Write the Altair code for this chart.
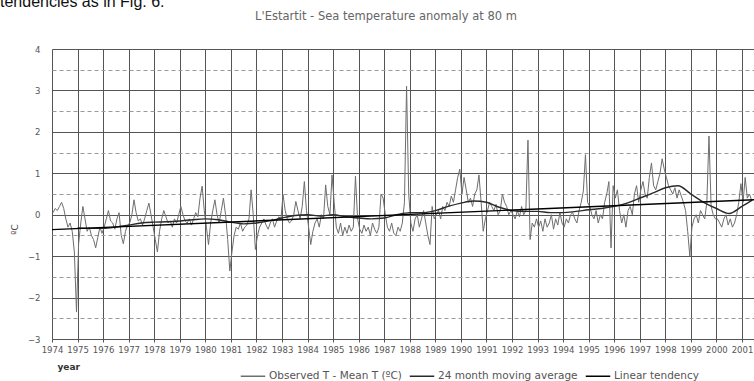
import altair as alt
import numpy as np
import pandas as pd

# ---------------- data ----------------
years = list(range(1974, 2002))
obs_by_year = [
    [0.05, 0.15, 0.1, 0.2, 0.3, 0.15, -0.1, -0.3, -0.2, -0.4, -0.9, -2.35],   # 1974
    [-0.7, -0.2, 0.2, -0.1, -0.4, -0.3, -0.5, -0.6, -0.8, -0.55, -0.3, -0.45],  # 1975
    [-0.3, -0.1, 0.1, -0.15, -0.2, -0.35, -0.1, 0.05, -0.5, -0.7, -0.4, -0.25],  # 1976
    [-0.2, 0.0, 0.36, 0.05, -0.15, -0.1, -0.25, -0.1, 0.1, 0.28, 0.0, -0.3],     # 1977
    [-0.6, -0.9, -0.4, -0.1, 0.1, -0.05, -0.2, -0.15, -0.3, -0.1, -0.2, 0.0],    # 1978
    [0.2, 0.0, -0.15, -0.2, -0.1, -0.25, -0.1, 0.05, -0.05, 0.4, 0.69, 0.1],     # 1979
    [-0.3, -0.72, -0.2, 0.1, 0.36, 0.0, -0.2, 0.1, 0.4, 0.0, -0.6, -1.36],       # 1980
    [-0.9, -0.5, -0.3, -0.35, -0.2, -0.4, -0.3, -0.25, -0.1, 0.6, 0.0, -0.84],   # 1981
    [-0.5, -0.3, -0.2, -0.1, -0.25, -0.35, -0.2, -0.1, -0.3, -0.15, -0.05, -0.1],  # 1982
    [0.48, 0.1, -0.1, -0.2, -0.15, 0.0, 0.32, 0.1, -0.1, 0.2, 0.8, 0.1],         # 1983
    [-0.3, -0.72, -0.4, -0.2, -0.1, -0.3, 0.0, -0.1, 0.72, 0.2, 0.0, 0.96],      # 1984
    [0.3, -0.3, -0.45, -0.2, -0.5, -0.3, -0.45, -0.25, -0.4, -0.3, 0.93, -0.1],  # 1985
    [-0.35, -0.45, -0.25, -0.4, -0.3, -0.5, -0.2, -0.35, -0.45, -0.3, 0.5, 0.4],  # 1986
    [0.0, -0.3, -0.4, -0.2, -0.45, -0.5, -0.3, -0.4, -0.2, 0.3, 3.1, 0.5],       # 1987
    [-0.2, -0.4, -0.1, 0.0, -0.3, -0.1, 0.1, -0.2, -0.5, -0.72, 0.2, -0.1],      # 1988
    [0.0, 0.1, -0.1, 0.2, 0.1, 0.3, 0.2, 0.45, 0.3, 0.6, 0.9, 1.1],              # 1989
    [0.5, 0.9, 0.6, 0.3, 0.4, 0.2, 0.5, 0.6, 0.96, 0.3, -0.4, -0.1],             # 1990
    [0.1, 0.3, 0.2, 0.1, 0.25, 0.0, 0.1, 0.5, 0.3, 0.2, 0.0, 0.1],               # 1991
    [0.0, -0.1, 0.1, -0.05, 0.2, 0.0, 0.1, 1.8, -0.6, -0.2, -0.3, -0.1],         # 1992
    [-0.3, -0.15, -0.4, -0.1, -0.3, -0.2, 0.0, -0.35, -0.1, -0.25, 0.05, -0.2],  # 1993
    [-0.3, -0.1, -0.2, 0.0, 0.05, -0.1, -0.2, 0.1, 0.3, 0.57, 1.45, 0.3],        # 1994
    [0.2, 0.0, -0.1, 0.1, -0.2, 0.0, -0.1, 0.3, 0.5, 0.8, -0.8, 0.7],            # 1995
    [0.4, 0.6, 0.1, -0.2, 0.0, -0.3, 0.1, 0.2, 0.0, 0.5, 0.7, 0.3],              # 1996
    [0.6, 0.8, 0.5, 0.4, 0.9, 1.25, 0.7, 0.6, 0.8, 1.0, 1.35, 1.1],              # 1997
    [0.9, 0.7, 0.6, 0.5, 0.65, 0.4, 0.6, 0.45, 0.3, 0.1, -0.4, -1.0],            # 1998
    [-0.3, -0.1, 0.0, -0.2, 0.1, 0.0, -0.1, 0.3, 1.9, 0.2, 0.0, -0.1],           # 1999
    [-0.1, -0.2, -0.3, -0.1, 0.0, -0.25, -0.1, -0.3, -0.2, 0.0, 0.3, 0.75],      # 2000
    [0.3, 0.9, 0.4, 0.5, 0.35],                                                  # 2001
]

ma_time = [1975.0, 1975.5, 1976.0, 1976.5, 1977.0, 1977.5, 1978.0, 1978.5, 1979.0, 1979.5,
           1980.0, 1980.5, 1981.0, 1981.5, 1982.0, 1982.5, 1983.0, 1983.5, 1984.0, 1984.5,
           1985.0, 1985.5, 1986.0, 1986.5, 1987.0, 1987.5, 1988.0, 1988.5, 1989.0, 1989.5,
           1990.0, 1990.5, 1991.0, 1991.5, 1992.0, 1992.5, 1993.0, 1993.5, 1994.0, 1994.5,
           1995.0, 1995.5, 1996.0, 1996.5, 1997.0, 1997.5, 1998.0, 1998.5, 1999.0, 1999.5,
           2000.0, 2000.5, 2001.0, 2001.4]
ma_value = [-0.32, -0.33, -0.33, -0.3, -0.25, -0.2, -0.18, -0.17, -0.15, -0.12,
            -0.1, -0.12, -0.18, -0.22, -0.2, -0.15, -0.08, -0.02, 0.0, -0.03,
            0.0, -0.05, -0.08, -0.1, -0.08, 0.0, 0.05, 0.05, 0.1, 0.2,
            0.28, 0.33, 0.3, 0.18, 0.1, 0.08, 0.08, 0.05, 0.05, 0.08,
            0.12, 0.15, 0.2, 0.28, 0.4, 0.52, 0.65, 0.7, 0.5, 0.3,
            0.15, 0.03, 0.2, 0.35]

lin_time = [1974.0, 2001.47]
lin_value = [-0.36, 0.36]

series_names = ["Observed T - Mean T (ºC)", "24 month moving average", "Linear tendency"]
series_colors = ["#6e6e6e", "#2a2a2a", "#000000"]

title_text = ["L'Estartit - Sea temperature anomaly at 80 m"]
page_text = ["tendencies as in Fig. 6."]

# ---------------- tables ----------------
obs_t, obs_v = [], []
for y, vals in zip(years, obs_by_year):
    for m, v in enumerate(vals):
        obs_t.append(y + (m + 0.5) / 12.0)
        obs_v.append(v)
df_obs = pd.DataFrame({"t": obs_t, "v": obs_v, "series": series_names[0]})
df_ma = pd.DataFrame({"t": ma_time, "v": ma_value, "series": series_names[1]})
df_lin = pd.DataFrame({"t": lin_time, "v": lin_value, "series": series_names[2]})

W, H = 702, 290
FONT = "DejaVu Sans"

xscale = alt.Scale(domain=[1974, 2001.47], nice=False, zero=False)
yscale = alt.Scale(domain=[-3, 4], nice=False, zero=False)

xaxis = alt.Axis(values=years, format="d", title="year", labelFont=FONT, labelFontSize=8.5,
                 labelColor="#555", labelPadding=3, tickSize=3, tickColor="#555",
                 domain=False, grid=True, gridColor="#555", gridWidth=1, labelFlush=False,
                 labelOverlap=False,
                 titleFont=FONT, titleFontSize=9, titleFontWeight="bold", titleColor="#333",
                 titleAlign="left", titleX=5, titleY=27, titleBaseline="middle")
yvals = [-3 + 0.5 * i for i in range(15)]
yaxis = alt.Axis(values=yvals, title="ºC", labelFont=FONT, labelFontSize=8.5,
                 labelColor="#555",
                 labelExpr="datum.value % 1 === 0 ? format(datum.value, 'd') : ''", labelPadding=12,
                 ticks=False, domain=False, grid=True, gridWidth=1, labelOverlap=False,
                 gridColor={"condition": {"test": "datum.value % 1 !== 0", "value": "#9a9a9a"}, "value": "#555"},
                 gridDash={"condition": {"test": "datum.value % 1 !== 0", "value": [4, 3]}, "value": []},
                 titleFont=FONT, titleFontSize=9, titleColor="#444", titleFontWeight="normal",
                 titleX=-33, titleY=180, titleAngle=-90)

X = alt.X("t:Q", scale=xscale, axis=xaxis)
Y = alt.Y("v:Q", scale=yscale, axis=yaxis)

color = alt.Color("series:N", scale=alt.Scale(domain=series_names, range=series_colors),
                  legend=alt.Legend(orient="none", legendX=188, legendY=314, direction="horizontal",
                                    title=None, symbolType="stroke", symbolSize=600,
                                    symbolStrokeWidth=1.5, labelFont=FONT, labelFontSize=10.5,
                                    labelColor="#555", labelLimit=0, columnPadding=4,
                                    labelOffset=3))

obs = alt.Chart(df_obs).mark_line(strokeWidth=1.0, clip=True).encode(x=X, y=Y, color=color)
ma = alt.Chart(df_ma).mark_line(strokeWidth=1.4, clip=True, interpolate="monotone").encode(
    x=X, y=Y, color=color)
lin = alt.Chart(df_lin).mark_line(strokeWidth=1.4, clip=True).encode(x=X, y=Y, color=color)

title = alt.Chart(pd.DataFrame({"s": title_text})).mark_text(
    font=FONT, fontSize=11.5, color="#666", align="center", baseline="middle"
).encode(x=alt.value(334), y=alt.value(-32), text="s:N")

page = alt.Chart(pd.DataFrame({"s": page_text})).mark_text(
    font="Liberation Sans", fontSize=16, color="#111", align="left", baseline="alphabetic"
).encode(x=alt.value(-52), y=alt.value(-42), text="s:N")

chart = alt.layer(obs, ma, lin, title, page).properties(
    width=W, height=H,
    autosize=alt.AutoSizeParams(type="none"),
    padding={"left": 52, "top": 49, "right": 0, "bottom": 42},
).configure_view(stroke="#555", strokeWidth=1).configure(background="white")

chart.save("out.html", embed_options={"renderer": "svg", "actions": False})
